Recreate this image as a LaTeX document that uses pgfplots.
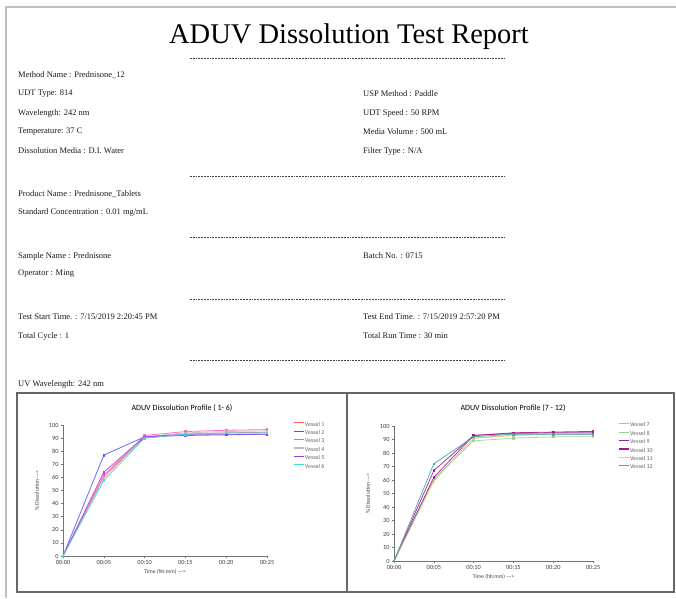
\documentclass[border=0pt]{standalone}
\usepackage{fontspec}
\setmainfont{Liberation Serif}
\newfontfamily\cf{Carlito}
\usepackage{pgfplots}
\pgfplotsset{compat=1.18}
\definecolor{vA}{RGB}{250,90,90}
\definecolor{vB}{RGB}{80,80,250}
\definecolor{vC}{RGB}{250,90,180}
\definecolor{vD}{RGB}{190,190,190}
\definecolor{vE}{RGB}{160,60,220}
\definecolor{vF}{RGB}{70,220,220}
\definecolor{vG}{RGB}{255,170,60}
\definecolor{vH}{RGB}{150,210,150}
\definecolor{vI}{RGB}{140,30,170}
\definecolor{vJ}{RGB}{170,20,140}
\definecolor{vK}{RGB}{210,210,140}
\definecolor{vL}{RGB}{50,170,170}
\newcommand{\info}[3]{\node[anchor=west,inner sep=0pt,text=black!90,font=\fontsize{8.5}{10}\selectfont] at (#1,598-#2) {#3};}
\newcommand{\dashline}[1]{\draw[black!75,line width=0.9pt,dash pattern=on 1.8pt off 1pt] (190,598-#1) -- (505,598-#1);}
\pgfplotsset{
  dissol/.style={
    scale only axis, anchor=origin, clip=false,
    xmin=0,xmax=25,ymin=0,ymax=100,
    axis lines=left, axis line style={-, draw=black!55, line width=0.6pt},
    xtick={0,5,...,25}, xticklabels={00:00,00:05,00:10,00:15,00:20,00:25},
    ytick={0,10,...,100},
    tick align=outside, major tick length=2pt, tick style={black!55, line width=0.5pt},
    ticklabel style={font=\cf\fontsize{6.3}{7}\selectfont, text=black!75},
    /pgf/number format/assume math mode=true,
    xticklabel style={yshift=1pt},
    yticklabel style={xshift=1pt},
    xlabel={Time (hh:mm) ---{}>}, ylabel={\% Dissolution ---{}>},
    label style={font=\cf\fontsize{5.6}{6}\selectfont, text=black!75},
    xlabel style={yshift=2.5pt},
    ylabel style={yshift=3pt},
    every axis plot/.append style={line width=0.8pt, mark=square*, mark size=0.8pt, opacity=0.85},
    legend cell align=left,
    legend style={anchor=north west, draw=none, fill=none, inner sep=0pt,
      font=\cf\fontsize{6}{6.5}\selectfont, text=black!60, row sep=2pt,
      nodes={inner sep=0.6pt, text height=4.2pt, text depth=1pt}},
    legend image code/.code={\draw[#1,mark=none,opacity=1,line width=1.2pt] (0pt,1.6pt) -- (10pt,1.6pt);},
  }
}
\begin{document}
\begin{tikzpicture}[x=1pt,y=1pt]
\useasboundingbox (0,0) rectangle (676,598);
\fill[white] (0,0) rectangle (676,598);
\draw[black!25,line width=1.2pt] (6,0) -- (6,591) -- (676,591);
\node[anchor=base,inner sep=0pt,font=\fontsize{28.5}{30}\selectfont] at (349,598-44) {ADUV Dissolution Test Report};
\dashline{58}
\info{18}{75}{Method Name : Prednisone\_12}
\info{18}{94}{UDT Type: 814}
\info{363}{94}{USP Method : Paddle}
\info{18}{113}{Wavelength: 242 nm}
\info{363}{113}{UDT Speed : 50 RPM}
\info{18}{132}{Temperature: 37 C}
\info{363}{132}{Media Volume : 500 mL}
\info{18}{151}{Dissolution Media : D.I. Water}
\info{363}{151}{Filter Type : N/A}
\dashline{176}
\info{18}{194}{Product Name : Prednisone\_Tablets}
\info{18}{212}{Standard Concentration : 0.01 mg/mL}
\dashline{237}
\info{18}{256}{Sample Name : Prednisone}
\info{363}{256}{Batch No. : 0715}
\info{18}{274}{Operator : Ming}
\dashline{299}
\info{18}{317}{Test Start Time. : 7/15/2019 2:20:45 PM}
\info{363}{317}{Test End Time. : 7/15/2019 2:57:20 PM}
\info{18}{336}{Total Cycle : 1}
\info{363}{336}{Total Run Time : 30 min}
\dashline{360}
\info{18}{384}{UV Wavelength: 242 nm}
\draw[black!60,line width=1.3pt] (17,598-393) rectangle (674,598-592);
\draw[black!60,line width=1.3pt] (347,598-393) -- (347,598-592);
\node[font=\cf\fontsize{8}{9}\selectfont] at (182,598-408) {ADUV Dissolution Profile ( 1- 6)};
\node[font=\cf\fontsize{8}{9}\selectfont] at (513,598-408) {ADUV Dissolution Profile (7 - 12)};
\begin{axis}[dissol, at={(63pt,42pt)}, width=204pt, height=131pt,
  legend style={at={(1.127,1.03)}}]
\addplot[color=vA] coordinates {(0,0)(5,61)(10,90)(15,93)(20,94)(25,94.5)};
\addlegendentry{Vessel 1}
\addplot[color=vB] coordinates {(0,0)(5,77)(10,91)(15,92)(20,92.5)(25,93)};
\addlegendentry{Vessel 2}
\addplot[color=vC] coordinates {(0,0)(5,61.5)(10,92)(15,95)(20,96)(25,96.5)};
\addlegendentry{Vessel 3}
\addplot[color=vD] coordinates {(0,0)(5,59)(10,91)(15,94)(20,95)(25,95.5)};
\addlegendentry{Vessel 4}
\addplot[color=vE] coordinates {(0,0)(5,64)(10,91)(15,93)(20,93)(25,93)};
\addlegendentry{Vessel 5}
\addplot[color=vF] coordinates {(0,0)(5,57.5)(10,90)(15,93)(20,94)(25,94)};
\addlegendentry{Vessel 6}
\end{axis}
\begin{axis}[dissol, at={(394pt,37pt)}, width=199pt, height=135pt,
  legend style={at={(1.126,1.03)}}]
\addplot[color=vG] coordinates {(0,0)(5,60)(10,91)(15,93)(20,94)(25,94)};
\addlegendentry{Vessel 7}
\addplot[color=vH] coordinates {(0,0)(5,61)(10,89)(15,91)(20,92)(25,92)};
\addlegendentry{Vessel 8}
\addplot[color=vI] coordinates {(0,0)(5,62)(10,93)(15,94.5)(20,95)(25,95)};
\addlegendentry{Vessel 9}
\addplot[color=vJ] coordinates {(0,0)(5,67)(10,93)(15,95)(20,95.5)(25,96)};
\addlegendentry{Vessel 10}
\addplot[color=vK] coordinates {(0,0)(5,59)(10,91)(15,93)(20,94)(25,94)};
\addlegendentry{Vessel 11}
\addplot[color=vL] coordinates {(0,0)(5,72)(10,92)(15,94)(20,94)(25,94)};
\addlegendentry{Vessel 12}
\end{axis}
\end{tikzpicture}
\end{document}
